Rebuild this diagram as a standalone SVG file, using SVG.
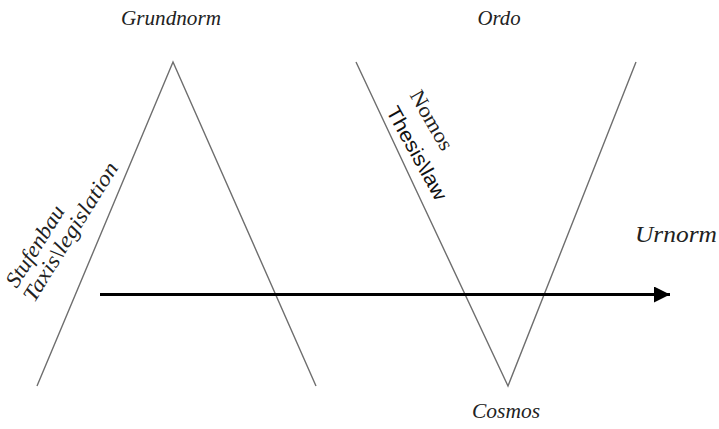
<svg xmlns="http://www.w3.org/2000/svg" width="719" height="429" viewBox="0 0 719 429">
<style>
.ln{fill:none;stroke:#6e6e6e;stroke-width:1.4}
.it{font-family:"Liberation Serif",serif;font-style:italic;fill:#222}
.sr{font-family:"Liberation Serif",serif;fill:#222}
.sn{font-family:"Liberation Sans",sans-serif;fill:#111}
</style>
<defs>
<marker id="ah" viewBox="0 0 16 16" refX="16" refY="8" markerWidth="16" markerHeight="16" markerUnits="userSpaceOnUse" orient="auto">
<path d="M0,0 L16,8 L0,16 Z" fill="#000"/>
</marker>
</defs>
<g id="shapeA"><polyline class="ln" points="37,386 173,62 316,386"/></g>
<g id="shapeV"><polyline class="ln" points="356,62 508,386 636,62"/></g>
<g id="connectors">
<line x1="100" y1="294.5" x2="670" y2="294.5" stroke="#000" stroke-width="2.8" marker-end="url(#ah)"/>
</g>
<g id="grundnorm"><text class="it" x="171" y="25" font-size="21" text-anchor="middle" textLength="100" lengthAdjust="spacingAndGlyphs">Grundnorm</text></g>
<g id="ordo"><text class="it" x="499" y="25" font-size="21" text-anchor="middle" textLength="43" lengthAdjust="spacingAndGlyphs">Ordo</text></g>
<g id="urnorm"><text class="it" x="676" y="242" font-size="23" text-anchor="middle" textLength="82" lengthAdjust="spacingAndGlyphs">Urnorm</text></g>
<g id="cosmos"><text class="it" x="506" y="418" font-size="21" text-anchor="middle" textLength="68" lengthAdjust="spacingAndGlyphs">Cosmos</text></g>
<g id="stufenbau"><text class="it" font-size="22" text-anchor="middle" dy="0.35em" textLength="92" lengthAdjust="spacingAndGlyphs" transform="translate(34.5,246) rotate(-58)">Stufenbau</text></g>
<g id="taxis"><text class="it" font-size="22" text-anchor="middle" dy="0.35em" textLength="160" lengthAdjust="spacingAndGlyphs" transform="translate(70,231.5) rotate(-58)">Taxis\legislation</text></g>
<g id="nomos"><text class="sr" font-size="21" text-anchor="middle" dy="0.35em" textLength="66" lengthAdjust="spacingAndGlyphs" transform="translate(432,120) rotate(60)">Nomos</text></g>
<g id="thesis"><text class="sn" font-size="20" text-anchor="middle" dy="0.35em" textLength="104" lengthAdjust="spacingAndGlyphs" transform="translate(417,153) rotate(61)">Thesis\law</text></g>
</svg>
